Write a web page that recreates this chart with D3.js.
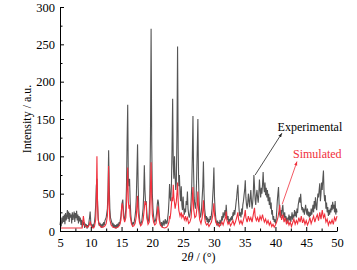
<!DOCTYPE html>
<html>
<head>
<meta charset="utf-8">
<script src="https://cdn.jsdelivr.net/npm/d3@7"></script>
<style>
  body { margin:0; background:#fff; }
  .axis path, .axis line { stroke:#000; stroke-width:1; }
</style>
</head>
<body>
<script>
// experimental pattern [2theta, intensity]
var experimental = [
 [5.0,8],[5.1,14],[5.2,6],[5.3,18],[5.4,10],[5.5,20],[5.6,12],[5.7,22],[5.8,9],[5.9,24],
 [6.0,14],[6.1,20],[6.2,28],[6.3,16],[6.4,26],[6.5,12],[6.6,24],[6.7,18],[6.8,22],[6.9,10],
 [7.0,25],[7.1,15],[7.2,20],[7.3,26],[7.4,12],[7.5,24],[7.6,17],[7.7,27],[7.8,14],[7.9,22],
 [8.0,10],[8.1,20],[8.2,13],[8.3,18],[8.4,8],[8.5,15],[8.6,5],[8.7,14],[8.8,8],[8.9,12],
 [9.0,4],[9.1,10],[9.2,6],[9.3,9],[9.4,3],[9.5,8],[9.6,5],[9.7,12],[9.8,18],[9.9,26],
 [10.0,12],[10.1,6],[10.2,9],[10.3,4],[10.4,8],[10.5,6],[10.6,12],[10.7,20],[10.8,35],[10.9,60],
 [11.0,70],[11.1,40],[11.2,18],[11.3,10],[11.4,7],[11.5,11],[11.6,5],[11.7,9],[11.8,4],[11.9,10],
 [12.0,6],[12.1,12],[12.2,8],[12.3,14],[12.5,18],[12.7,30],[12.8,55],[12.9,108],[13.0,60],[13.1,30],
 [13.2,18],[13.4,12],[13.5,7],[13.6,11],[13.7,5],[13.8,9],[13.9,4],[14.0,8],[14.1,3],[14.2,9],
 [14.3,5],[14.4,10],[14.5,6],[14.6,12],[14.7,9],[14.8,15],[14.9,20],[15.0,30],[15.1,38],[15.2,42],
 [15.3,28],[15.4,18],[15.5,14],[15.6,20],[15.7,30],[15.8,60],[15.9,120],[16.0,169],[16.1,70],[16.2,60],
 [16.3,70],[16.4,40],[16.5,22],[16.6,14],[16.7,10],[16.8,8],[16.9,12],[17.0,9],[17.1,15],[17.2,20],
 [17.3,28],[17.4,45],[17.5,80],[17.6,116],[17.7,60],[17.8,30],[17.9,18],[18.0,12],[18.1,8],[18.2,11],
 [18.3,14],[18.4,22],[18.5,30],[18.6,50],[18.7,88],[18.8,55],[18.9,38],[19.0,40],[19.1,25],[19.2,16],
 [19.3,12],[19.4,15],[19.5,25],[19.6,50],[19.7,130],[19.8,271],[19.9,120],[20.0,50],[20.1,30],[20.2,20],
 [20.3,15],[20.4,12],[20.5,14],[20.6,18],[20.7,25],[20.8,35],[20.9,42],[21.0,38],[21.1,25],[21.2,15],
 [21.3,10],[21.4,7],[21.5,12],[21.6,5],[21.7,10],[21.8,14],[21.9,7],[22.0,12],[22.1,16],[22.2,9],
 [22.3,14],[22.4,10],[22.5,18],[22.6,25],[22.7,40],[22.8,63],[22.9,45],[23.0,40],[23.1,60],[23.2,110],
 [23.3,177],[23.4,90],[23.5,70],[23.6,100],[23.7,75],[23.8,55],[23.9,65],[24.0,130],[24.1,247],[24.2,110],
 [24.3,60],[24.4,75],[24.5,50],[24.6,40],[24.7,60],[24.8,35],[24.9,28],[25.0,46],[25.1,30],[25.2,22],
 [25.3,30],[25.4,25],[25.5,40],[25.6,35],[25.7,53],[25.8,30],[25.9,22],[26.0,18],[26.1,22],[26.2,28],
 [26.3,40],[26.4,60],[26.5,100],[26.6,154],[26.7,80],[26.8,45],[26.9,35],[27.0,30],[27.1,40],[27.2,70],
 [27.3,110],[27.4,150],[27.5,70],[27.6,40],[27.7,25],[27.8,18],[27.9,22],[28.0,30],[28.1,45],[28.2,60],
 [28.3,93],[28.4,50],[28.5,30],[28.6,22],[28.7,15],[28.8,20],[28.9,12],[29.0,18],[29.1,10],[29.2,16],
 [29.3,12],[29.4,20],[29.5,15],[29.6,22],[29.7,30],[29.8,45],[29.9,60],[30.0,85],[30.1,45],[30.2,28],
 [30.3,18],[30.4,12],[30.5,8],[30.6,14],[30.7,6],[30.8,12],[30.9,9],[31.0,15],[31.1,7],[31.2,13],
 [31.3,20],[31.4,14],[31.5,25],[31.6,18],[31.7,22],[31.8,28],[31.9,20],[32.0,35],[32.1,22],[32.2,15],
 [32.3,20],[32.4,10],[32.5,16],[32.6,12],[32.7,18],[32.8,14],[32.9,20],[33.0,15],[33.1,25],[33.2,20],
 [33.3,28],[33.4,22],[33.5,30],[33.6,38],[33.7,45],[33.8,55],[33.9,62],[34.0,40],[34.1,28],[34.2,20],
 [34.3,25],[34.4,18],[34.5,30],[34.6,22],[34.7,35],[34.8,40],[34.9,48],[35.0,55],[35.1,68],[35.2,45],
 [35.3,35],[35.4,30],[35.5,38],[35.6,50],[35.7,40],[35.8,32],[35.9,45],[36.0,55],[36.1,40],[36.2,30],
 [36.3,38],[36.4,50],[36.5,75],[36.6,60],[36.7,42],[36.8,35],[36.9,48],[37.0,55],[37.1,45],[37.2,38],
 [37.3,50],[37.4,69],[37.5,55],[37.6,45],[37.7,58],[37.8,50],[37.9,62],[38.0,79],[38.1,60],[38.2,52],
 [38.3,65],[38.4,48],[38.5,58],[38.6,45],[38.7,55],[38.8,40],[38.9,50],[39.0,35],[39.1,45],[39.2,30],
 [39.3,38],[39.4,22],[39.5,28],[39.6,15],[39.7,20],[39.8,12],[39.9,16],[40.0,10],[40.1,14],[40.2,25],
 [40.3,40],[40.4,50],[40.5,59],[40.6,35],[40.7,22],[40.8,18],[40.9,28],[41.0,20],[41.1,30],[41.2,35],
 [41.3,22],[41.4,18],[41.5,25],[41.6,15],[41.7,20],[41.8,12],[41.9,18],[42.0,10],[42.1,16],[42.2,22],
 [42.3,14],[42.4,20],[42.5,12],[42.6,18],[42.7,25],[42.8,15],[42.9,22],[43.0,18],[43.1,28],[43.2,20],
 [43.3,26],[43.4,18],[43.5,30],[43.6,24],[43.7,35],[43.8,40],[43.9,45],[44.0,38],[44.1,50],[44.2,35],
 [44.3,28],[44.4,32],[44.5,25],[44.6,30],[44.7,22],[44.8,28],[44.9,35],[45.0,28],[45.1,22],[45.2,30],
 [45.3,20],[45.4,26],[45.5,18],[45.6,25],[45.7,20],[45.8,30],[45.9,22],[46.0,28],[46.1,35],[46.2,25],
 [46.3,40],[46.4,30],[46.5,45],[46.6,35],[46.7,28],[46.8,40],[46.9,50],[47.0,45],[47.1,55],[47.2,64],
 [47.3,40],[47.4,50],[47.5,65],[47.6,55],[47.7,70],[47.8,81],[47.9,50],[48.0,40],[48.1,48],[48.2,30],
 [48.3,38],[48.4,25],[48.5,32],[48.6,20],[48.7,28],[48.8,22],[48.9,30],[49.0,25],[49.1,35],[49.2,28],
 [49.3,39],[49.4,30],[49.5,35],[49.6,25],[49.7,40],[49.8,22],[49.9,30],[50.0,25]
];

// simulated pattern [2theta, intensity]
var simulated = [
 [5.0,4],[8.6,4],[8.7,12],[8.8,20],[8.9,14],[9.0,8],[9.2,6],[9.4,5],[9.6,6],[9.8,9],
 [9.9,13],[10.0,9],[10.2,5],[10.4,4],[10.6,6],[10.8,15],[10.9,40],[11.0,100],[11.1,35],[11.2,15],
 [11.4,8],[11.6,6],[11.8,5],[12.0,5],[12.3,7],[12.5,10],[12.7,20],[12.8,40],[12.9,87],[13.0,35],
 [13.1,15],[13.3,8],[13.6,5],[14.0,4],[14.4,5],[14.7,8],[14.9,15],[15.0,30],[15.1,37],[15.2,33],
 [15.3,20],[15.5,12],[15.7,18],[15.8,35],[15.9,60],[16.0,85],[16.1,40],[16.2,30],[16.3,35],[16.4,20],
 [16.6,10],[16.8,6],[17.0,7],[17.2,10],[17.4,20],[17.5,35],[17.6,47],[17.7,25],[17.9,12],[18.1,7],
 [18.3,9],[18.5,15],[18.7,30],[18.8,40],[18.9,35],[19.0,38],[19.1,18],[19.3,9],[19.5,12],[19.6,25],
 [19.7,60],[19.8,92],[19.9,45],[20.0,22],[20.2,12],[20.4,8],[20.6,10],[20.8,22],[20.9,33],[21.0,28],
 [21.1,15],[21.3,8],[21.6,5],[22.0,4],[22.3,5],[22.5,7],[22.7,12],[22.8,20],[22.9,18],[23.0,25],
 [23.1,35],[23.2,45],[23.3,40],[23.4,62],[23.5,45],[23.6,38],[23.7,30],[23.9,40],[24.0,50],[24.1,65],
 [24.2,40],[24.3,28],[24.5,20],[24.7,25],[24.8,18],[25.0,22],[25.2,15],[25.4,20],[25.5,14],[25.7,18],
 [25.9,10],[26.1,12],[26.3,18],[26.4,30],[26.5,45],[26.6,59],[26.7,30],[26.9,18],[27.1,20],[27.3,35],
 [27.4,53],[27.5,30],[27.7,15],[27.9,10],[28.1,18],[28.2,28],[28.3,41],[28.4,25],[28.6,12],[28.8,8],
 [29.0,10],[29.2,6],[29.4,9],[29.6,12],[29.8,20],[29.9,28],[30.0,37],[30.1,22],[30.3,12],[30.5,8],
 [30.7,10],[30.9,6],[31.1,9],[31.3,12],[31.5,8],[31.7,14],[31.9,18],[32.0,26],[32.1,15],[32.3,9],
 [32.5,12],[32.7,7],[32.9,10],[33.1,14],[33.3,8],[33.5,12],[33.7,18],[33.9,25],[34.0,16],[34.2,10],
 [34.4,14],[34.6,9],[34.8,15],[35.0,22],[35.1,28],[35.2,18],[35.4,12],[35.6,20],[35.8,14],[36.0,18],
 [36.2,12],[36.4,22],[36.6,31],[36.7,20],[36.9,14],[37.1,18],[37.3,12],[37.5,20],[37.7,15],[37.9,22],
 [38.0,18],[38.2,12],[38.4,16],[38.6,10],[38.8,14],[39.0,8],[39.2,12],[39.4,6],[39.6,9],[39.8,5],
 [40.0,8],[40.2,12],[40.4,18],[40.6,28],[40.7,35],[40.8,25],[41.0,15],[41.2,22],[41.4,12],[41.6,18],
 [41.8,9],[42.0,14],[42.2,8],[42.4,12],[42.6,6],[42.8,11],[43.0,16],[43.2,9],[43.4,14],[43.6,10],
 [43.8,18],[44.0,12],[44.2,20],[44.4,11],[44.6,16],[44.8,9],[45.0,14],[45.2,8],[45.4,12],[45.6,18],
 [45.8,10],[46.0,15],[46.2,20],[46.4,12],[46.6,18],[46.8,22],[47.0,14],[47.2,25],[47.4,16],[47.6,28],
 [47.8,18],[48.0,22],[48.2,12],[48.4,16],[48.6,8],[48.8,13],[49.0,10],[49.2,15],[49.4,9],[49.6,18],
 [49.8,14],[50.0,20]
];

var xTicks = [5, 10, 15, 20, 25, 30, 35, 40, 45, 50];
var yTicks = [0, 50, 100, 150, 200, 250, 300];
// labels with arrows: text, label position, arrow start and arrow end (data units)
var expLabel = {text:"Experimental", at:[45.6, 134], from:[36.7, 75], to:[41.05, 131]};
var simLabel = {text:"Simulated", at:[46.8, 98], from:[41.1, 36], to:[43.5, 93]};

var serif = "'Liberation Serif'";

var window_w = 357, window_h = 270;
var margin = {left:60, top:7, right:20, bottom:39};
var frame_w = window_w - margin.left - margin.right;
var frame_h = window_h - margin.top - margin.bottom;

var xScale = d3.scaleLinear().domain([5, 50]).range([0, frame_w]);
var yScale = d3.scaleLinear().domain([0, 300]).range([frame_h, 0]);

var svg = d3.select("body").append("svg").attr("width", window_w).attr("height", window_h);
var g = svg.append("g").attr("transform", "translate(" + margin.left + "," + margin.top + ")");

var defs = svg.append("defs");
[["arrBlack", "#222"], ["arrRed", "#f0303c"]].forEach(function(a) {
    defs.append("marker")
        .attr("id", a[0])
        .attr("viewBox", "0 0 10 10")
        .attr("refX", 10).attr("refY", 5)
        .attr("markerWidth", 5).attr("markerHeight", 5)
        .attr("orient", "auto")
      .append("path")
        .attr("d", "M0,1 L10,5 L0,9 z")
        .attr("fill", a[1]);
});

var line = d3.line()
    .x(function(d) { return xScale(d[0]); })
    .y(function(d) { return yScale(d[1]); });

g.append("path").datum(experimental)
    .attr("d", line)
    .attr("fill", "none")
    .attr("stroke", "#555")
    .attr("stroke-width", 1.1);

g.append("path").datum(simulated)
    .attr("d", line)
    .attr("fill", "none")
    .attr("stroke", "#f0303c")
    .attr("stroke-width", 1.1);

// minor ticks
g.append("g").attr("class", "axis")
    .attr("transform", "translate(0," + frame_h + ")")
    .call(d3.axisBottom(xScale).tickValues(d3.range(7.5, 50, 5)).tickSize(-2.5).tickSizeOuter(0).tickFormat(""))
    .select(".domain").remove();
g.append("g").attr("class", "axis")
    .call(d3.axisLeft(yScale).tickValues(d3.range(25, 300, 50)).tickSize(-2.5).tickSizeOuter(0).tickFormat(""))
    .select(".domain").remove();

// major axes
var xAxisG = g.append("g").attr("class", "axis")
    .attr("transform", "translate(0," + frame_h + ")")
    .call(d3.axisBottom(xScale).tickValues(xTicks).tickSize(-4).tickSizeOuter(0).tickPadding(7));
var yAxisG = g.append("g").attr("class", "axis")
    .call(d3.axisLeft(yScale).tickValues(yTicks).tickSize(-4).tickSizeOuter(0).tickPadding(5));
svg.selectAll(".axis text")
    .style("font-family", serif)
    .style("font-size", "12.5px")
    .attr("fill", "#000");

// axis titles
var xt = g.append("text")
    .attr("x", frame_w / 2).attr("y", frame_h + 30)
    .attr("text-anchor", "middle")
    .style("font-family", serif)
    .style("font-size", "12px");
xt.append("tspan").text("2");
xt.append("tspan").style("font-style", "italic").text("θ");
xt.append("tspan").text(" / (°)");

g.append("text")
    .attr("transform", "rotate(-90)")
    .attr("x", -frame_h / 2).attr("y", -29)
    .attr("text-anchor", "middle")
    .style("font-family", serif)
    .style("font-size", "12px")
    .text("Intensity / a.u.");

// annotations
[[expLabel, "#222", "#000", "arrBlack"], [simLabel, "#f0303c", "#f0303c", "arrRed"]].forEach(function(a) {
    var lb = a[0];
    g.append("line")
        .attr("x1", xScale(lb.from[0])).attr("y1", yScale(lb.from[1]))
        .attr("x2", xScale(lb.to[0])).attr("y2", yScale(lb.to[1]))
        .attr("stroke", a[1]).attr("stroke-width", 0.8)
        .attr("marker-end", "url(#" + a[3] + ")");
    g.append("text")
        .attr("x", xScale(lb.at[0])).attr("y", yScale(lb.at[1]))
        .attr("text-anchor", "middle")
        .style("font-family", serif)
        .style("font-size", "12px")
        .attr("fill", a[2])
        .text(lb.text);
});
</script>
</body>
</html>
